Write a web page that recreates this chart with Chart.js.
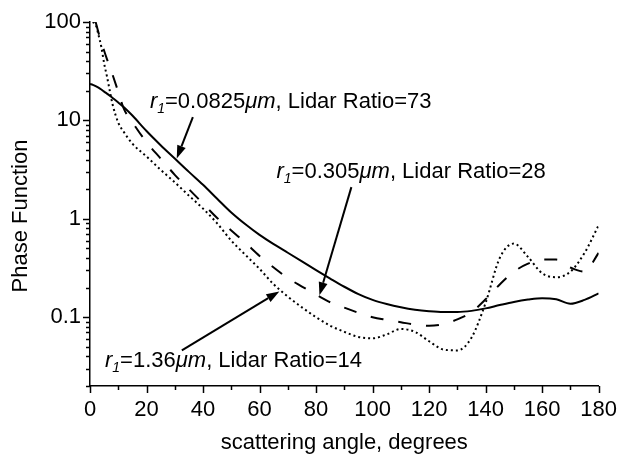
<!DOCTYPE html>
<html>
<head>
<meta charset="utf-8">
<script src="https://cdn.jsdelivr.net/npm/chart.js"></script>
<style>
  html, body { margin: 0; padding: 0; background: #fff; }
</style>
</head>
<body>
<canvas id="phaseChart" width="621" height="455"></canvas>
<script>
// scattering angle grid (degrees)
const angles = [0, 1, 2, 3, 4, 5, 6, 7, 8, 10, 12, 15, 20, 25, 30, 35, 40, 45, 50, 55,
    60, 65, 70, 75, 80, 85, 90, 95, 100, 105, 110, 115, 120, 125, 130, 135, 140, 145,
    150, 155, 160, 165, 170, 175, 180];

// r1 = 0.0825 um (solid)
const phaseSmall = [23.5, 23, 22.3, 21.5, 20.6, 19.6, 18.7, 17.8, 16.9, 15.2, 13.6, 11.2,
    7.8, 5.6, 4.1, 3.0, 2.22, 1.6, 1.16, 0.88, 0.687, 0.553, 0.452, 0.369, 0.301, 0.247,
    0.204, 0.172, 0.15, 0.136, 0.126, 0.119, 0.115, 0.113, 0.113, 0.116, 0.123, 0.133,
    0.143, 0.151, 0.156, 0.152, 0.137, 0.15, 0.175];

// r1 = 0.305 um (dashed)
const phaseMedium = [null, null, 100, 78, 63, 51, 42, 35, 29, 19.5, 13.1, 9.6, 6.0, 4.1,
    2.8, 2.0, 1.43, 1.02, 0.76, 0.57, 0.42, 0.32, 0.25, 0.205, 0.17, 0.142, 0.125,
    0.111, 0.1, 0.094, 0.089, 0.084, 0.082, 0.085, 0.095, 0.113, 0.152, 0.215, 0.29,
    0.35, 0.385, 0.385, 0.32, 0.29, 0.45];

// r1 = 1.36 um (dotted)
const phaseLarge = [null, 100, 94, 74, 56, 38, 28, 20, 14.5, 9.5, 7.6, 5.8, 4.3, 3.15,
    2.35, 1.72, 1.27, 0.9, 0.6, 0.43, 0.31, 0.216, 0.162, 0.126, 0.1, 0.082, 0.071,
    0.063, 0.061, 0.067, 0.076, 0.071, 0.057, 0.047, 0.046, 0.062, 0.14, 0.4, 0.56,
    0.41, 0.28, 0.255, 0.29, 0.45, 0.86];

const xTicks = [0, 20, 40, 60, 80, 100, 120, 140, 160, 180];
const yMajorTicks = [0.1, 1, 10, 100];
const yTickLabels = ['0.1', '1', '10', '100'];

const radii = ['0.0825', '0.305', '1.36'];
const lidarRatios = ['73', '28', '14'];

// annotation placement in data coordinates: [angle, value]
const labelAnchors = [[21.2, 13.3], [66.0, 2.6], [5.3, 0.031]];
const arrowTails = [[36.4, 10.8], [92.5, 2.1], [32.5, 0.046]];
const arrowTips = [[30.7, 4.1], [81.2, 0.167], [67, 0.183]];

const FONT = "'Liberation Sans', Arial, sans-serif";

function toPoints(values) {
    return angles.map((a, i) => ({ x: a, y: values[i] }));
}

const decorations = {
    id: 'decorations',
    afterDraw(chart) {
        const ctx = chart.ctx;
        const xs = chart.scales.x;
        const ys = chart.scales.y;
        const area = chart.chartArea;
        ctx.save();
        ctx.strokeStyle = '#000';
        ctx.fillStyle = '#000';
        ctx.lineWidth = 1.5;

        // x ticks, majors every 20, minors in between
        for (let a = 0; a <= 180; a += 10) {
            const px = Math.round(xs.getPixelForValue(a)) + 0.5;
            const len = (a % 20 === 0) ? 7 : 4;
            ctx.beginPath();
            ctx.moveTo(px, area.bottom);
            ctx.lineTo(px, area.bottom + len);
            ctx.stroke();
        }
        // y ticks, decades and 2..9 minors
        for (let e = -2; e <= 2; e++) {
            for (let k = 1; k <= 9; k++) {
                const v = k * Math.pow(10, e);
                if (v < ys.min - 1e-9 || v > ys.max + 1e-9) continue;
                const py = Math.round(ys.getPixelForValue(v)) + 0.5;
                const len = k === 1 ? 7 : 4;
                ctx.beginPath();
                ctx.moveTo(area.left, py);
                ctx.lineTo(area.left - len, py);
                ctx.stroke();
            }
        }

        // y axis title, drawn here so it sits where the original has it
        ctx.save();
        ctx.font = '22px ' + FONT;
        ctx.textAlign = 'center';
        ctx.textBaseline = 'middle';
        ctx.translate(21, 216);
        ctx.rotate(-Math.PI / 2);
        ctx.fillText('Phase Function', 0, 0);
        ctx.restore();

        // arrows
        ctx.lineWidth = 2;
        arrowTails.forEach((tail, i) => {
            const x0 = xs.getPixelForValue(tail[0]), y0 = ys.getPixelForValue(tail[1]);
            const x1 = xs.getPixelForValue(arrowTips[i][0]), y1 = ys.getPixelForValue(arrowTips[i][1]);
            const ang = Math.atan2(y1 - y0, x1 - x0);
            const head = 13, half = 4.5;
            const bx = x1 - head * Math.cos(ang), by = y1 - head * Math.sin(ang);
            ctx.beginPath();
            ctx.moveTo(x0, y0);
            ctx.lineTo(bx, by);
            ctx.stroke();
            ctx.beginPath();
            ctx.moveTo(x1, y1);
            ctx.lineTo(bx + half * Math.sin(ang), by - half * Math.cos(ang));
            ctx.lineTo(bx - half * Math.sin(ang), by + half * Math.cos(ang));
            ctx.closePath();
            ctx.fill();
        });

        // labels: r1=..um, Lidar Ratio=..
        ctx.textBaseline = 'alphabetic';
        ctx.textAlign = 'left';
        labelAnchors.forEach((pos, i) => {
            let x = xs.getPixelForValue(pos[0]);
            const y = ys.getPixelForValue(pos[1]);
            const parts = [
                { t: 'r', f: 'italic 22px ' + FONT, dy: 0 },
                { t: '1', f: 'italic 14px ' + FONT, dy: 5 },
                { t: '=' + radii[i], f: '22px ' + FONT, dy: 0 },
                { t: '\u03bcm', f: 'italic 22px ' + FONT, dy: 0 },
                { t: ', Lidar Ratio=' + lidarRatios[i], f: '22px ' + FONT, dy: 0 }
            ];
            parts.forEach(p => {
                ctx.font = p.f;
                ctx.fillText(p.t, x, y + p.dy);
                x += ctx.measureText(p.t).width;
            });
        });
        ctx.restore();
    }
};

new Chart(document.getElementById('phaseChart'), {
    type: 'line',
    data: {
        datasets: [
            {
                label: 'r1=0.0825um',
                data: toPoints(phaseSmall),
                borderColor: '#000',
                borderWidth: 2,
                pointRadius: 0,
                cubicInterpolationMode: 'monotone'
            },
            {
                label: 'r1=0.305um',
                data: toPoints(phaseMedium),
                borderColor: '#000',
                borderWidth: 2,
                borderDash: [13, 15],
                pointRadius: 0,
                cubicInterpolationMode: 'monotone'
            },
            {
                label: 'r1=1.36um',
                data: toPoints(phaseLarge),
                borderColor: '#000',
                borderWidth: 2,
                borderDash: [2, 3],
                pointRadius: 0,
                cubicInterpolationMode: 'monotone'
            }
        ]
    },
    options: {
        responsive: false,
        animation: false,
        devicePixelRatio: 1,
        layout: { padding: { left: 0, right: 21, top: 22, bottom: 0 } },
        plugins: { legend: { display: false }, tooltip: { enabled: false } },
        scales: {
            x: {
                type: 'linear',
                min: 0,
                max: 180,
                afterBuildTicks: (scale) => { scale.ticks = xTicks.map(v => ({ value: v })); },
                afterFit: (scale) => { scale.height = 69; },
                border: { display: true, color: '#000', width: 1.5 },
                grid: { display: true, drawOnChartArea: false, color: 'rgba(0,0,0,0)', tickLength: 7 },
                ticks: { color: '#000', font: { family: FONT, size: 22 }, padding: 4, maxRotation: 0, autoSkip: false },
                title: {
                    display: true,
                    text: 'scattering angle, degrees',
                    color: '#000',
                    font: { family: FONT, size: 22, lineHeight: 1 },
                    padding: { top: 0, bottom: 1 }
                }
            },
            y: {
                type: 'logarithmic',
                min: 0.02,
                max: 100,
                afterBuildTicks: (scale) => { scale.ticks = yMajorTicks.map(v => ({ value: v, major: true })); },
                afterFit: (scale) => { scale.width = 90; },
                border: { display: true, color: '#000', width: 1.5 },
                grid: { display: true, drawOnChartArea: false, color: 'rgba(0,0,0,0)', tickLength: 7 },
                ticks: {
                    color: '#000',
                    font: { family: FONT, size: 22 },
                    padding: 2,
                    autoSkip: false,
                    callback: (v) => {
                        const i = yMajorTicks.findIndex(t => Math.abs(t - v) < 1e-9);
                        return i >= 0 ? yTickLabels[i] : '';
                    }
                },
                title: { display: false }
            }
        }
    },
    plugins: [decorations]
});
</script>
</body>
</html>
